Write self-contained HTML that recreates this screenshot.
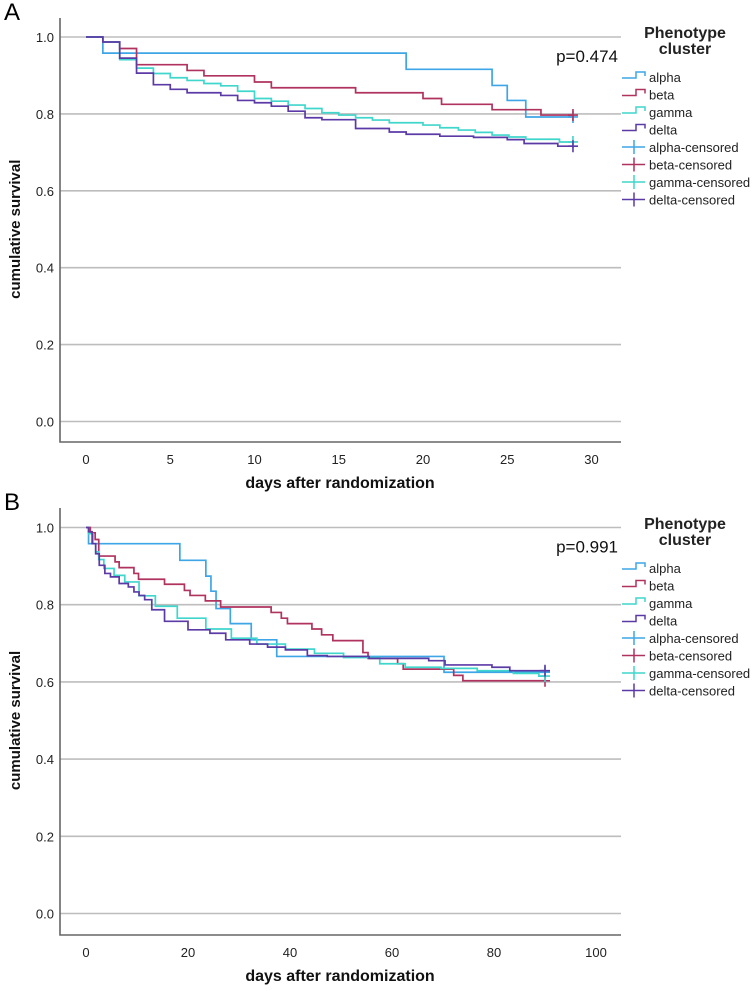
<!DOCTYPE html>
<html><head><meta charset="utf-8"><style>
body{margin:0;background:#fff;font-family:"Liberation Sans",sans-serif}
svg{display:block}
</style></head><body>
<svg id="c" width="754" height="991" xmlns="http://www.w3.org/2000/svg"></svg>
<script>
// ---- Panel A data ----
const ticksA = [0,5,10,15,20,25,30];
const yTicks = [0.0,0.2,0.4,0.6,0.8,1.0];
const A_alpha_t = [0,1,19,24.1,25,26.1,28.9];
const A_alpha_s = [1,0.958,0.916,0.874,0.835,0.792,0.792];
const A_beta_t = [0,1,2,3,6,7,10,11,16,20,21.1,24.1,27,28.9];
const A_beta_s = [1,0.987,0.970,0.928,0.913,0.899,0.883,0.868,0.855,0.840,0.825,0.811,0.797,0.797];
const A_gamma_t = [0,1,2,3,4,5,6,7,8,9,10,11,12,13,14,15,16,17,18,20,21,22.1,23.1,24.1,25.1,26.1,28.1,28.9];
const A_gamma_s = [1,0.987,0.941,0.919,0.905,0.894,0.887,0.879,0.873,0.859,0.840,0.833,0.823,0.814,0.803,0.797,0.790,0.784,0.777,0.771,0.764,0.758,0.752,0.745,0.740,0.734,0.727,0.727];
const A_delta_t = [0,1,2,3,4,5,6,8,9,10,11,12,13,14,16,18,19,21,23,25,26,28,28.9];
const A_delta_s = [1,0.987,0.945,0.906,0.876,0.864,0.855,0.848,0.835,0.829,0.820,0.807,0.790,0.785,0.762,0.753,0.747,0.742,0.739,0.733,0.723,0.716,0.716];
// ---- Panel B data ----
const ticksB = [0,20,40,60,80,100];
const B_alpha_t = [0,0.5,18.4,23.5,24.5,25.5,28.3,32.4,37.4,70.2,90];
const B_alpha_s = [1,0.958,0.915,0.874,0.835,0.790,0.751,0.709,0.666,0.625,0.625];
const B_beta_t = [0,0.85,1.8,2.5,5.7,6.5,9.4,10.3,15.4,19.3,20.4,23.4,26.4,36.3,38.3,39.5,44.3,46.2,48.4,54.3,55.3,61.1,62.2,72.1,73.9,90];
const B_beta_s = [1,0.986,0.969,0.926,0.911,0.896,0.881,0.866,0.853,0.837,0.824,0.810,0.794,0.780,0.765,0.751,0.737,0.722,0.707,0.676,0.661,0.647,0.633,0.617,0.603,0.603];
const B_gamma_t = [0,0.5,1.4,1.9,2.5,3.5,5.5,7.6,10.4,13.6,17.9,23.5,28.5,33.5,39.1,44.8,50.5,57.6,62.6,69.6,76.7,83.8,88.8,90];
const B_gamma_s = [1,0.984,0.958,0.937,0.917,0.894,0.876,0.859,0.823,0.796,0.765,0.737,0.713,0.698,0.685,0.674,0.663,0.647,0.638,0.635,0.629,0.622,0.615,0.615];
const B_delta_t = [0,0.5,1.2,1.9,2.6,3.7,4.8,6.5,8.3,9.4,10.4,11.5,12.9,15.4,20.0,24.3,27.4,32.1,35.6,39.1,43.4,47.3,55.5,67.2,70.4,79.6,83.1,90];
const B_delta_s = [1,0.989,0.958,0.932,0.902,0.881,0.872,0.855,0.846,0.833,0.824,0.813,0.787,0.757,0.735,0.726,0.709,0.698,0.690,0.683,0.668,0.666,0.661,0.655,0.644,0.638,0.629,0.629];

const COLORS = {alpha:'#3ea6e6', beta:'#b0325f', gamma:'#3fd6cc', delta:'#5b3aa6'};
const NS='http://www.w3.org/2000/svg';
const svg=document.getElementById('c');
function mk(tag,attrs,parent){const e=document.createElementNS(NS,tag);for(const k in attrs)e.setAttribute(k,attrs[k]);(parent||svg).appendChild(e);return e;}

function panel(cfg){
  const g=mk('g',{});
  
  
  const x=d=>cfg.x0+d*cfg.xs;
  const y=v=>cfg.y0-v*cfg.ys;
  const lbl=mk('text',{x:4,y:cfg.top+2,'font-size':24,fill:'#000'},g);lbl.textContent=cfg.letter;
  
  
  yTicks.forEach(v=>{
    const l=mk('line',{x1:60,x2:621,y1:y(v),y2:y(v),stroke:'#bdbdbd','stroke-width':1.6},g);
    
    
    const t=mk('text',{x:54,y:y(v)+5,'text-anchor':'end','font-size':13,fill:'#222'},g);t.textContent=v.toFixed(1);
    
    
  });
  const ax=mk('path',{d:`M60 ${cfg.top} V${cfg.axisY} H621`,fill:'none',stroke:'#666','stroke-width':1.6},g);
  
  
  cfg.ticks.forEach(d=>{
    const t=mk('text',{x:x(d),y:cfg.axisY+22,'text-anchor':'middle','font-size':13,fill:'#222'},g);t.textContent=d;
    
    
  });
  const xt=mk('text',{x:340,y:cfg.axisY+46,'text-anchor':'middle','font-size':16,'font-weight':'bold',fill:'#111'},g);xt.textContent='days after randomization';
  
  
  const yc=(y(0)+y(1))/2;
  const yt=mk('text',{x:0,y:0,transform:`translate(20 ${yc}) rotate(-90)`,'text-anchor':'middle','font-size':15,'font-weight':'bold',fill:'#111'},g);yt.textContent='cumulative survival';
  
  
  const p=mk('text',{x:618,y:y(1)+25,'text-anchor':'end','font-size':17,fill:'#111'},g);p.textContent=cfg.p;
  
  
  cfg.series.forEach(s=>{
    let d=`M${x(s.t[0])} ${y(s.s[0])}`;
    for(let i=1;i<s.t.length;i++){d+=` H${x(s.t[i])} V${y(s.s[i])}`;}
    const path=mk('path',{d,fill:'none',stroke:COLORS[s.k],'stroke-width':1.7},g);
    
    
    const lx=x(s.t[s.t.length-1]), ly=y(s.s[s.s.length-1]);
    const cm=mk('path',{d:`M${lx-5} ${ly} H${lx+5} M${lx} ${ly-6} V${ly+6}`,stroke:COLORS[s.k],'stroke-width':1.6},g);
    
    
  });
  // legend
  const lg=mk('g',{},g);
  
  
  const t1=mk('text',{x:685,y:cfg.legY,'text-anchor':'middle','font-size':16,'font-weight':'bold',fill:'#222'},lg);t1.textContent='Phenotype';
  const t2=mk('text',{x:685,y:cfg.legY+16,'text-anchor':'middle','font-size':16,'font-weight':'bold',fill:'#222'},lg);t2.textContent='cluster';
  
  
  const names=['alpha','beta','gamma','delta'];
  const items=names.map(n=>[n,false]).concat(names.map(n=>[n,true]));
  items.forEach((it,i)=>{
    const yy=cfg.legY+39+i*17.5;
    const c=COLORS[it[0]];
    const sym=it[1]?mk('path',{d:`M622 ${yy} H645 M634 ${yy-7} V${yy+7}`,stroke:c,'stroke-width':1.5,fill:'none'},lg)
      :mk('path',{d:`M622 ${yy+1} H636 V${yy-5} H645 V${yy-1}`,stroke:c,'stroke-width':1.5,fill:'none'},lg);
    
    
    const tt=mk('text',{x:649,y:yy+5,'font-size':13,fill:'#222'},lg);tt.textContent=it[0]+(it[1]?'-censored':'');
    
    
  });
}
panel({name:'panel-a',letter:'A',top:18,x0:86,xs:16.85,y0:421.5,ys:384.5,axisY:442,ticks:ticksA,p:'p=0.474',legY:38,
  series:[{k:'alpha',t:A_alpha_t,s:A_alpha_s},{k:'beta',t:A_beta_t,s:A_beta_s},{k:'gamma',t:A_gamma_t,s:A_gamma_s},{k:'delta',t:A_delta_t,s:A_delta_s}]});
panel({name:'panel-b',letter:'B',top:508,x0:86,xs:5.1,y0:913.5,ys:386,axisY:935,ticks:ticksB,p:'p=0.991',legY:529,
  series:[{k:'alpha',t:B_alpha_t,s:B_alpha_s},{k:'beta',t:B_beta_t,s:B_beta_s},{k:'gamma',t:B_gamma_t,s:B_gamma_s},{k:'delta',t:B_delta_t,s:B_delta_s}]});
</script>
</body></html>
